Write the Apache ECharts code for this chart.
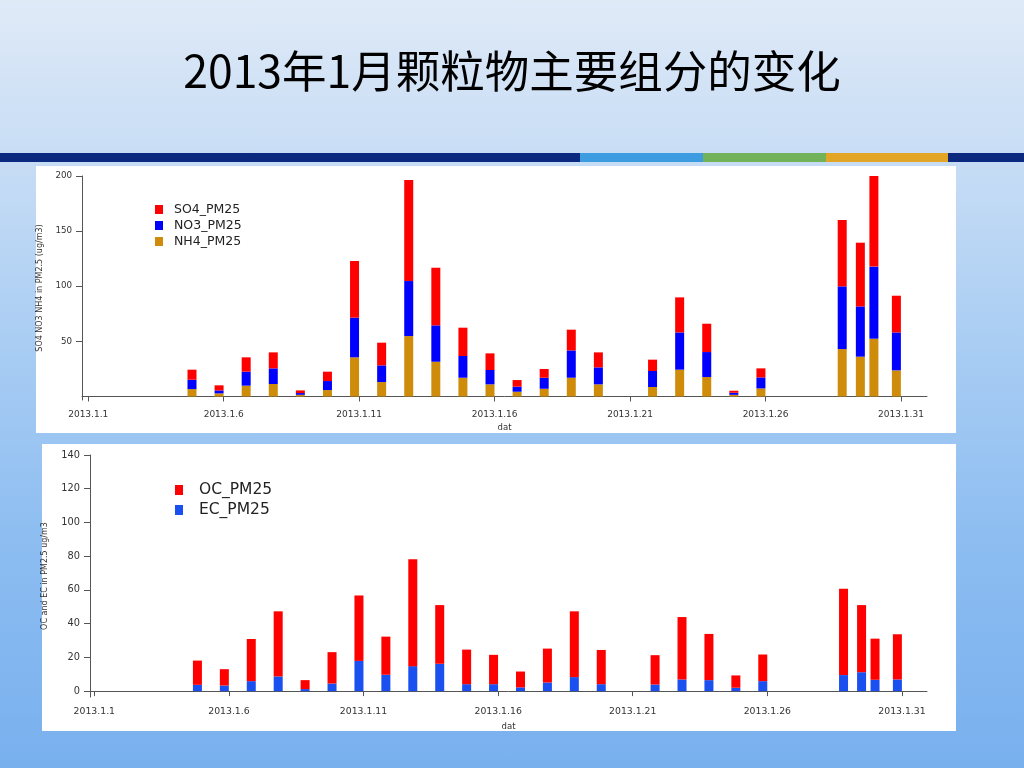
<!DOCTYPE html>
<html>
<head>
<meta charset="utf-8">
<script src="https://cdn.jsdelivr.net/npm/echarts@6/dist/echarts.min.js"></script>
<style>
html,body{margin:0;padding:0;width:1024px;height:768px;overflow:hidden;}
body{background:linear-gradient(to bottom,#dfeaf7 0%,#c8ddf5 20%,#a9cdf3 45%,#8dbdf1 70%,#78b0ee 100%);}
#c{width:1024px;height:768px;}
</style>
</head>
<body>
<div id="c"></div>
<script>
// sample time, day of January 2013 (fractional day)
const sampleDay = [4.83,5.83,6.83,7.83,8.83,9.83,10.83,11.83,12.83,13.83,14.83,15.83,16.83,17.83,18.83,19.83,21.83,22.83,23.83,24.83,25.83,28.83,29.5,30.0,30.83];
// top chart (ug/m3)
const nh4 = [6.7,2.8,9.8,11.3,1.5,5.8,35.5,13.1,54.8,31.5,17.0,11.0,4.3,7.0,17.0,11.0,8.6,24.3,17.6,1.5,7.3,43.0,36.1,52.4,23.7];
const no3 = [8.5,2.7,12.7,14.2,1.6,8.2,36.0,15.1,49.9,33.0,19.7,13.0,4.6,10.0,24.8,15.4,14.5,33.8,22.7,1.9,10.0,56.9,45.6,65.4,34.4];
const so4 = [9.1,4.6,13.0,14.5,2.4,8.5,51.4,20.6,91.6,52.3,25.7,15.1,6.0,7.9,18.8,13.6,10.3,31.8,25.7,1.8,8.2,60.2,57.8,82.2,33.3];
// bottom chart (ug/m3)
const ec = [3.7,3.3,5.9,8.7,1.2,4.5,17.9,9.7,14.8,16.2,4.1,4.1,2.2,5.1,8.3,4.1,3.9,6.9,6.5,2.0,5.9,9.5,11.2,6.7,6.9];
const oc = [14.4,9.7,25.0,38.6,5.3,18.6,38.8,22.6,63.4,34.8,20.5,17.4,9.4,20.1,39.0,20.3,17.4,37.0,27.4,7.3,15.8,51.2,39.8,24.4,26.8];
// ticks
const xTickDays = [1,6,11,16,21,26,31];
const yTicksTop = [50,100,150,200];
const yTicksBottom = [0,20,40,60,80,100,120,140];
const titleText = '2013年1月颗粒物主要组分的变化';

const FONT = 'DejaVu Sans';
// value first so that stacking happens on the y dimension
const pair = arr => arr.map((v,i)=>[v, sampleDay[i]]);
const ENC = {x:1, y:0};

function xAxis(gridIndex, min, max, fs, nameGap){
  return {
    type:'value', gridIndex, min, max,
    name:'dat', nameLocation:'middle', nameGap,
    nameTextStyle:{fontSize:8.5, color:'#333', fontFamily:FONT},
    axisLine:{lineStyle:{color:'#555', width:1}},
    axisTick:{customValues:xTickDays, length:5, lineStyle:{color:'#555'}},
    axisLabel:{customValues:xTickDays, formatter:v=>'2013.1.'+v, fontSize:fs, color:'#333', fontFamily:FONT, margin:10},
    splitLine:{show:false}
  };
}
function yAxis(gridIndex, min, max, ticks, name, fs, nameGap){
  return {
    type:'value', gridIndex, min, max,
    name, nameLocation:'middle', nameGap, nameRotate:90,
    nameTextStyle:{fontSize:8, color:'#333', fontFamily:FONT},
    axisLine:{show:true, lineStyle:{color:'#555', width:1}},
    axisTick:{show:true, customValues:ticks, length:6, lineStyle:{color:'#555'}},
    axisLabel:{customValues:ticks, fontSize:fs, color:'#333', fontFamily:FONT, margin:10},
    splitLine:{show:false}
  };
}

const chart = echarts.init(document.getElementById('c'), null, {renderer:'canvas'});
chart.setOption({
  animation:false,
  backgroundColor:'transparent',
  title:{text:titleText, left:'center', top:49, padding:0,
    textStyle:{fontSize:44.5, fontWeight:'normal', color:'#000', fontFamily:'Noto Sans CJK SC'}},
  graphic:[
    {type:'rect', z:-10, shape:{x:0,y:153,width:1024,height:9}, style:{fill:'#0b2a7f'}},
    {type:'rect', z:-9, shape:{x:580,y:153,width:123,height:9}, style:{fill:'#3d9be0'}},
    {type:'rect', z:-9, shape:{x:703,y:153,width:123,height:9}, style:{fill:'#72b35a'}},
    {type:'rect', z:-9, shape:{x:826,y:153,width:122,height:9}, style:{fill:'#e2a526'}},
    {type:'rect', z:-10, shape:{x:36,y:166,width:920,height:267}, style:{fill:'#ffffff'}},
    {type:'rect', z:-10, shape:{x:42,y:444,width:914,height:287}, style:{fill:'#ffffff'}}
  ],
  legend:[
    {orient:'vertical', left:150, top:198, itemWidth:8, itemHeight:9, itemGap:3, icon:'rect',
     data:['SO4_PM25','NO3_PM25','NH4_PM25'],
     textStyle:{fontSize:12.5, lineHeight:13, color:'#222', fontFamily:FONT, padding:[0,0,0,6]}},
    {orient:'vertical', left:170, top:477, itemWidth:8, itemHeight:10, itemGap:4, icon:'rect',
     data:['OC_PM25','EC_PM25'],
     textStyle:{fontSize:15.5, lineHeight:16, color:'#222', fontFamily:FONT, padding:[0,0,0,11]}}
  ],
  grid:[
    {left:82, top:176, width:845, height:224},
    {left:90, top:455, width:837, height:242}
  ],
  xAxis:[ xAxis(0, 0.77, 31.96, 9, 23), xAxis(1, 0.84, 31.93, 9.3, 25) ],
  yAxis:[
    yAxis(0, -3.2, 200, yTicksTop, 'SO4 NO3 NH4 in PM2.5 (ug/m3)', 8.7, 38),
    yAxis(1, -3.5, 140, yTicksBottom, 'OC and EC in PM2.5 ug/m3', 9.8, 41)
  ],
  series:[
    {name:'NH4_PM25', type:'bar', stack:'top', xAxisIndex:0, yAxisIndex:0, barWidth:9, encode:ENC, data:pair(nh4), itemStyle:{color:'#cf8c0a'}},
    {name:'NO3_PM25', type:'bar', stack:'top', xAxisIndex:0, yAxisIndex:0, barWidth:9, encode:ENC, data:pair(no3), itemStyle:{color:'#0000ff'}},
    {name:'SO4_PM25', type:'bar', stack:'top', xAxisIndex:0, yAxisIndex:0, barWidth:9, encode:ENC, data:pair(so4), itemStyle:{color:'#ff0000'}},
    {name:'EC_PM25', type:'bar', stack:'bot', xAxisIndex:1, yAxisIndex:1, barWidth:9, encode:ENC, data:pair(ec), itemStyle:{color:'#1a4ff0'}},
    {name:'OC_PM25', type:'bar', stack:'bot', xAxisIndex:1, yAxisIndex:1, barWidth:9, encode:ENC, data:pair(oc), itemStyle:{color:'#ff0000'}}
  ]
});
</script>
</body>
</html>
